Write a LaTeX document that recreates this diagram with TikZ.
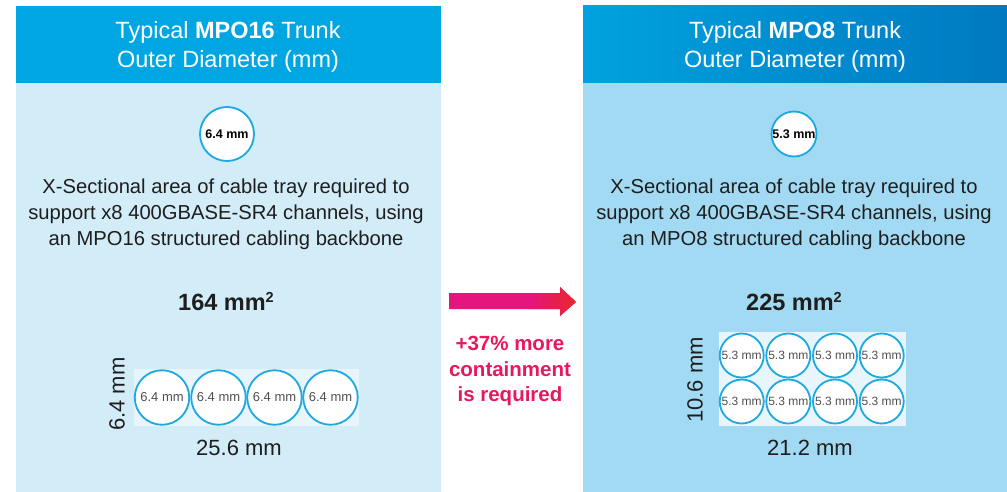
\documentclass[tikz,border=0pt]{standalone}
\usepackage{fontspec}
\setmainfont{Liberation Sans}
\definecolor{hdrL}{HTML}{00A6E1}
\definecolor{bodyL}{HTML}{D2ECF8}
\definecolor{bodyR}{HTML}{A3DAF3}
\definecolor{hdrRa}{HTML}{00A2DF}
\definecolor{hdrRb}{HTML}{0079C1}
\definecolor{stripc}{HTML}{E8F5FC}
\definecolor{ring}{HTML}{1AA9E1}
\definecolor{ink}{HTML}{1E1E1E}
\definecolor{cgray}{HTML}{505050}
\definecolor{mag}{HTML}{E5157F}
\definecolor{redt}{HTML}{E8262A}
\definecolor{pinktxt}{HTML}{E8175F}
\newcommand{\sqr}{\raisebox{0.34em}{\bfseries\fontsize{14.5}{14}\selectfont 2}}
\tikzset{
  hdr/.style={text=white, font=\fontsize{23.5}{29}\selectfont, align=center, inner sep=0pt},
  para/.style={text=ink, font=\fontsize{20.2}{26}\selectfont, align=center, inner sep=0pt},
  big/.style={text=ink, font=\fontsize{23.5}{26}\selectfont, inner sep=0pt},
  dim/.style={text=ink, font=\fontsize{22}{24}\selectfont, inner sep=0pt},
  topcab/.style={circle, draw=ring, line width=1.8pt, fill=white, inner sep=0pt, text=black, font=\bfseries\fontsize{12.5}{12}\selectfont},
  cab/.style={circle, draw=ring, line width=1.8pt, fill=white, inner sep=0pt, text=cgray, font=\fontsize{13}{12}\selectfont},
  note/.style={text=pinktxt, font=\bfseries\fontsize{20.5}{25.5}\selectfont, align=center, inner sep=0pt}
}
\begin{document}
\begin{tikzpicture}[x=1pt,y=-1pt]
\useasboundingbox (0,0) rectangle (1007,492);
% left panel
\fill[bodyL] (16,6) rectangle (441,492);
\fill[hdrL] (16,6) rectangle (441,83);
% right panel
\fill[bodyR] (583,6) rectangle (1007,492);
\shade[left color=hdrRa, right color=hdrRb] (583,6) rectangle (1007,83);

% left content
\node[hdr] (hL) at (228,46.5) {Typical \textbf{MPO16} Trunk\\Outer Diameter (mm)};
\node[topcab, minimum size=54pt] (cL) at (227,134) {6.4 mm};
\node[para] (pL) at (226,214) {X-Sectional area of cable tray required to\\support x8 400GBASE-SR4 channels, using\\an MPO16 structured cabling backbone};
\node[big] (aL) at (226,302) {\textbf{164 mm\sqr}};
\fill[stripc] (134,369) rectangle (359,426);
\foreach \i/\x in {1/162,2/218.5,3/274.5,4/330.5}{
  \node[cab, minimum size=54.5pt] (l\i) at (\x,397.5) {6.4 mm};
}
\node[dim, rotate=90] (vL) at (117,394) {6.4 mm};
\node[dim] (wL) at (239,448) {25.6 mm};

% arrow
\path[fill=mag] (449,293) -- (560,293) -- (560,287) -- (576,302) -- (560,316) -- (560,309) -- (449,309) -- cycle;
\begin{scope}
\clip (449,293) -- (560,293) -- (560,287) -- (576,302) -- (560,316) -- (560,309) -- (449,309) -- cycle;
\shade[left color=mag, right color=redt] (528,280) rectangle (576,320);
\end{scope}
\node[note] (nt) at (510,371) {+37\% more\\containment\\is required};

% right content
\node[hdr] (hR) at (795,46.5) {Typical \textbf{MPO8} Trunk\\Outer Diameter (mm)};
\node[topcab, minimum size=45pt] (cR) at (794,134) {5.3 mm};
\node[para] (pR) at (794,214) {X-Sectional area of cable tray required to\\support x8 400GBASE-SR4 channels, using\\an MPO8 structured cabling backbone};
\node[big] (aR) at (794,302) {\textbf{225 mm\sqr}};
\fill[stripc] (719,332) rectangle (906,426);
\foreach \i/\x in {1/741.7,2/788.3,3/835,4/881.7}{
  \node[cab, minimum size=44pt, font=\fontsize{12}{12}\selectfont] (ra\i) at (\x,355.5) {5.3 mm};
  \node[cab, minimum size=44pt, font=\fontsize{12}{12}\selectfont] (rb\i) at (\x,401.5) {5.3 mm};
}
\node[dim, rotate=90] (vR) at (695,380) {10.6 mm};
\node[dim] (wR) at (810,448) {21.2 mm};
\end{tikzpicture}
\end{document}
